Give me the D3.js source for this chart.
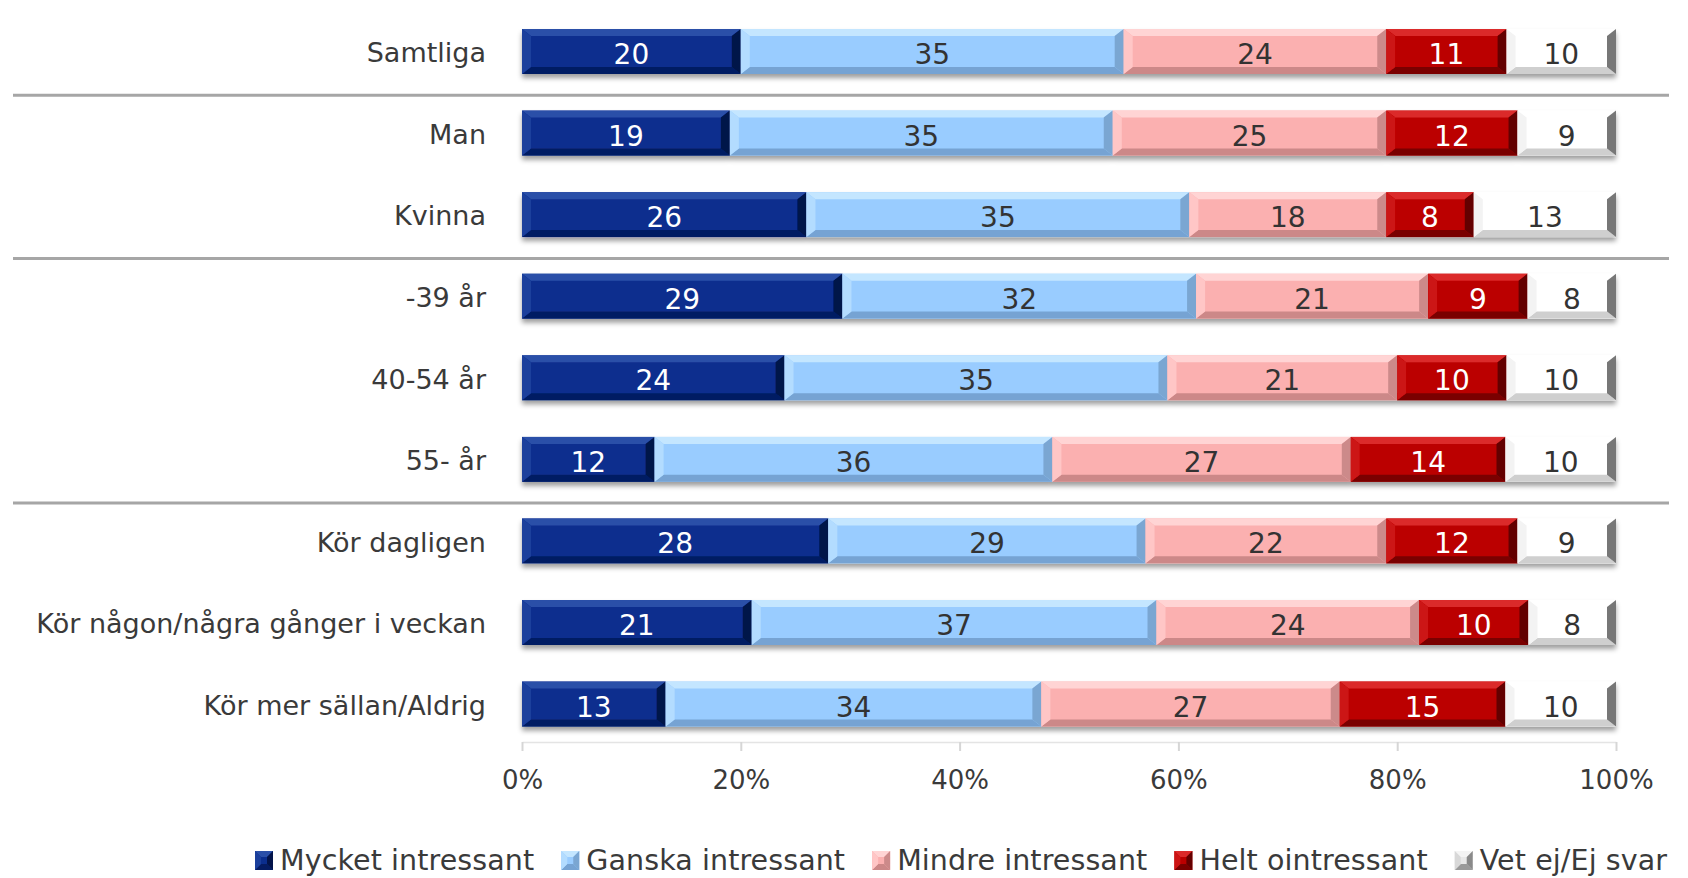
<!DOCTYPE html>
<html>
<head>
<meta charset="utf-8">
<script src="https://cdn.jsdelivr.net/npm/d3@7"></script>
<style>
  html, body { margin: 0; padding: 0; background: #ffffff; }
  svg { display: block; }
  text { font-family: "DejaVu Sans", Verdana, sans-serif; }
</style>
</head>
<body>
<svg id="chart" width="1688" height="878"></svg>
<script>
// ---------------- data ----------------
const categories = ["Samtliga", "Man", "Kvinna", "-39 år", "40-54 år", "55- år",
  "Kör dagligen", "Kör någon/några gånger i veckan", "Kör mer sällan/Aldrig"];
const seriesNames = ["Mycket intressant", "Ganska intressant", "Mindre intressant",
  "Helt ointressant", "Vet ej/Ej svar"];
const mycket = [20, 19, 26, 29, 24, 12, 28, 21, 13];
const ganska = [35, 35, 35, 32, 35, 36, 29, 37, 34];
const mindre = [24, 25, 18, 21, 21, 27, 22, 24, 27];
const helt   = [11, 12, 8, 9, 10, 14, 12, 10, 15];
const vetej  = [10, 9, 13, 8, 10, 10, 9, 8, 10];
const xTickValues = [0, 0.2, 0.4, 0.6, 0.8, 1.0];
const groupEnds = ["Samtliga", "Kvinna", "55- år"];

// ---------------- styles ----------------
const palette = {
  "Mycket intressant": { face: "#0b2e8e", top: "#2a4fa8", bottom: "#051c63", left: "#1b3f9c", right: "#03144a", text: "#ffffff" },
  "Ganska intressant": { face: "#99ccff", top: "#c4e6ff", bottom: "#76a3d3", left: "#b3dcff", right: "#7aa6d2", text: "#333333" },
  "Mindre intressant": { face: "#fbb0b0", top: "#ffd4d4", bottom: "#cc8888", left: "#ffc6c6", right: "#cc8a8a", text: "#333333" },
  "Helt ointressant":  { face: "#bb0000", top: "#db2a2a", bottom: "#7a0000", left: "#cc1414", right: "#640000", text: "#ffffff" },
  "Vet ej/Ej svar":    { face: "#ffffff", top: "#ffffff", bottom: "#cfcfcf", left: "#f3f3f3", right: "#777777", text: "#333333" }
};

const svg = d3.select("#chart");
const W = 1688, H = 878;
svg.append("rect").attr("width", W).attr("height", H).attr("fill", "#ffffff");

const defs = svg.append("defs");
const f = defs.append("filter").attr("id", "shadow")
  .attr("x", "-5%").attr("y", "-30%").attr("width", "110%").attr("height", "170%");
f.append("feDropShadow").attr("dx", 0).attr("dy", 4).attr("stdDeviation", 2.5)
  .attr("flood-color", "#000").attr("flood-opacity", 0.38);
const gf = defs.append("filter").attr("id", "gshadow")
  .attr("x", "-200%").attr("y", "-5%").attr("width", "500%").attr("height", "110%");
gf.append("feDropShadow").attr("dx", 1.5).attr("dy", 0).attr("stdDeviation", 1.2)
  .attr("flood-color", "#000").attr("flood-opacity", 0.25);

// ---------------- scales ----------------
const x = d3.scaleLinear().domain([0, 1]).range([522, 1616]);
const y = d3.scaleBand().domain(categories).range([10.7, 744.8])
  .paddingInner(0.45).paddingOuter(0.225);

const table = categories.map((c, i) => ({
  cat: c,
  "Mycket intressant": mycket[i],
  "Ganska intressant": ganska[i],
  "Mindre intressant": mindre[i],
  "Helt ointressant": helt[i],
  "Vet ej/Ej svar": vetej[i]
}));
const stacked = d3.stack().keys(seriesNames).offset(d3.stackOffsetExpand)(table);

// ---------------- gridlines ----------------
const gridTop = 12, gridBottom = 742;
svg.append("g").selectAll("line").data(xTickValues).join("line")
  .attr("x1", d => x(d)).attr("x2", d => x(d))
  .attr("y1", gridTop).attr("y2", gridBottom)
  .attr("stroke", "#b4b4b4").attr("stroke-width", 2)
  .attr("filter", "url(#gshadow)");

// ---------------- x axis ----------------
const xAxis = svg.append("g").attr("transform", `translate(0,${gridBottom})`)
  .call(d3.axisBottom(x).tickValues(xTickValues).tickFormat(d3.format(".0%"))
    .tickSizeInner(9).tickSizeOuter(0).tickPadding(20));
xAxis.select(".domain").attr("stroke", "#e4e4e4").attr("stroke-width", 1.5);
xAxis.selectAll(".tick line").attr("stroke", "#d6d6d6").attr("stroke-width", 2);
xAxis.selectAll(".tick text").attr("fill", "#3a3a3a").style("font-size", "26px")
  .style("font-family", "'DejaVu Sans', Verdana, sans-serif");

// ---------------- group separators ----------------
const sepOffset = y.step() * y.paddingInner() / 2 + 3;
svg.append("g").selectAll("line").data(groupEnds).join("line")
  .attr("x1", 13).attr("x2", 1669)
  .attr("y1", d => y(d) + y.bandwidth() + sepOffset)
  .attr("y2", d => y(d) + y.bandwidth() + sepOffset)
  .attr("stroke", "#a6a6a6").attr("stroke-width", 3);

// ---------------- category labels ----------------
const yAxis = svg.append("g").attr("transform", `translate(${x(0)},0)`)
  .call(d3.axisLeft(y).tickSize(0).tickPadding(36));
yAxis.select(".domain").remove();
yAxis.selectAll(".tick text").attr("fill", "#3a3a3a").style("font-size", "27px")
  .attr("dy", "0.4em")
  .style("font-family", "'DejaVu Sans', Verdana, sans-serif");

// ---------------- bevel helper ----------------
function bevelRect(g, bx, by, bw, bh, c, bvx, bvy) {
  const b = Math.min(bvx, bw / 2), v = Math.min(bvy, bh / 2);
  g.append("rect").attr("x", bx).attr("y", by).attr("width", bw).attr("height", bh).attr("fill", c.face);
  const pts = (arr) => arr.map(p => p.join(",")).join(" ");
  g.append("polygon").attr("fill", c.top)
    .attr("points", pts([[bx, by], [bx + bw, by], [bx + bw - b, by + v], [bx + b, by + v]]));
  g.append("polygon").attr("fill", c.bottom)
    .attr("points", pts([[bx, by + bh], [bx + bw, by + bh], [bx + bw - b, by + bh - v], [bx + b, by + bh - v]]));
  g.append("polygon").attr("fill", c.left)
    .attr("points", pts([[bx, by], [bx + b, by + v], [bx + b, by + bh - v], [bx, by + bh]]));
  g.append("polygon").attr("fill", c.right)
    .attr("points", pts([[bx + bw, by], [bx + bw - b, by + v], [bx + bw - b, by + bh - v], [bx + bw, by + bh]]));
}

// ---------------- bars ----------------
const rows = svg.append("g").selectAll("g.row").data(categories).join("g")
  .attr("class", "row").attr("filter", "url(#shadow)");
rows.each(function (cat, i) {
  const g = d3.select(this);
  stacked.forEach(s => {
    const d = s[i];
    const x0 = x(d[0]), x1 = x(d[1]);
    bevelRect(g, x0, y(cat), x1 - x0, y.bandwidth(), palette[s.key], 9, 7);
  });
});

// ---------------- data labels ----------------
const labels = svg.append("g");
stacked.forEach(s => {
  labels.selectAll(null).data(s).join("text")
    .attr("x", d => (x(d[0]) + x(d[1])) / 2)
    .attr("y", d => y(d.data.cat) + y.bandwidth() / 2 + 12.5)
    .attr("text-anchor", "middle")
    .attr("fill", palette[s.key].text)
    .style("font-size", "28px")
    .text(d => d.data[s.key]);
});

// ---------------- legend ----------------
const legend = svg.append("g");
let lx = 255;
const legY = 870;
seriesNames.forEach(name => {
  const c = palette[name];
  const mc = name === "Vet ej/Ej svar"
    ? { face: "#e8e8e8", top: "#f4f4f4", bottom: "#9a9a9a", left: "#d8d8d8", right: "#8a8a8a" }
    : c;
  bevelRect(legend.append("g"), lx, legY - 19, 18, 19, mc, 6, 6);
  const t = legend.append("text").attr("x", lx + 25).attr("y", legY)
    .attr("fill", "#3a3a3a").style("font-size", "28.5px")
    .style("letter-spacing", "0.1px").text(name);
  lx += 25 + t.node().getComputedTextLength() + 27;
});
</script>
</body>
</html>
